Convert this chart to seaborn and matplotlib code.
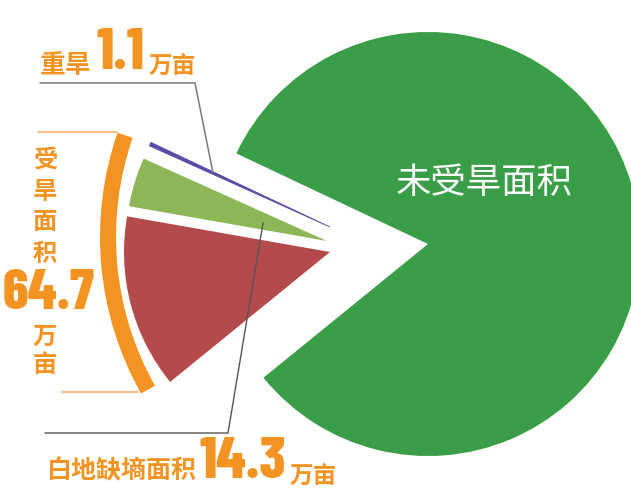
import matplotlib
matplotlib.use("Agg")
import matplotlib.pyplot as plt
import seaborn as sns
from matplotlib.patches import Arc

# data (万亩)
categories = ["未受旱面积", "重旱", "白地缺墒面积", "其他受旱"]
areas = [297.0, 1.1, 14.3, 49.3]
drought_total = 64.7
top_label_value = "1.1"
bottom_label_value = "14.3"
total_label_value = "64.7"

sns.set_theme(style="white")
plt.rcParams["font.family"] = ["Noto Sans CJK SC", "DejaVu Sans"]

palette = sns.color_palette(["#3a9d47", "#5a4ca6", "#8db657", "#b44a4b"])
ORANGE = "#f39422"
GRAY = "#7a7a7a"
W, H = 631, 491
NUM_FONT = ["Barlow Condensed", "DejaVu Sans"]


def P(x, y):
    # pixel position measured from the top-left corner
    return (x, H - y)


fig = plt.figure(figsize=(W / 100, H / 100), dpi=100)
ax = fig.add_axes([0, 0, 1, 1])

wedges, _ = ax.pie(areas, colors=palette, startangle=219.1, radius=212,
                   center=P(428, 244), wedgeprops=dict(linewidth=0))

# pull the drought slices out to the left
offsets = {1: (P(330, 227), 198), 2: (P(327, 241), 201), 3: (P(330, 252), 206)}
for i, (c, r) in offsets.items():
    wedges[i].set_center(c)
    wedges[i].set_radius(r)
wedges[1].set_linewidth(0.6)
wedges[1].set_edgecolor(palette[1])

ax.set_xlim(0, W)
ax.set_ylim(0, H)
ax.set_aspect("equal")
ax.axis("off")

# orange bracket for the whole drought area
ax.add_patch(Arc(P(419, 237), 622, 622, theta1=160.9, theta2=209.4,
                 lw=11.5, color=ORANGE, zorder=3))
ax.plot([38, 117], [H - 132, H - 132], color="#f6b26e", lw=1.2)
ax.plot([62, 138], [H - 392, H - 392], color="#f6b26e", lw=1.2)

# leader lines
ax.plot([40, 195, 213], [H - 83, H - 83, H - 173], color=GRAY, lw=1.1, zorder=4)
ax.plot([45, 228, 263], [H - 433, H - 433, H - 223], color="#555555", lw=1.0, zorder=4)

# top label
ax.text(*P(66, 65), categories[1], color=ORANGE, fontsize=18.5, fontweight="bold",
        ha="center", va="center")
ax.text(*P(120, 53), top_label_value, color=ORANGE, fontsize=42, fontweight=800,
        family=NUM_FONT, ha="center", va="center")
ax.text(*P(172, 66), "万亩", color=ORANGE, fontsize=17, fontweight="bold",
        ha="center", va="center")

# left label, vertical
for ch, y in zip("受旱面积", [160, 192, 222, 254]):
    ax.text(*P(45, y), ch, color=ORANGE, fontsize=17.5, fontweight="bold",
            ha="center", va="center")
ax.text(*P(49, 294), total_label_value, color=ORANGE, fontsize=41, fontweight=800,
        family=NUM_FONT, ha="center", va="center")
for ch, y in zip("万亩", [337, 365]):
    ax.text(*P(45, y), ch, color=ORANGE, fontsize=17.5, fontweight="bold",
            ha="center", va="center")

# bottom label
ax.text(*P(122, 471), categories[2], color=ORANGE, fontsize=18, fontweight="bold",
        ha="center", va="center")
ax.text(*P(243, 462), bottom_label_value, color=ORANGE, fontsize=42, fontweight=800,
        family=NUM_FONT, ha="center", va="center")
ax.text(*P(313, 476), "万亩", color=ORANGE, fontsize=17, fontweight="bold",
        ha="center", va="center")

# label inside the big slice
ax.text(*P(484, 183), categories[0], color="white", fontsize=25.5, fontweight="medium",
        ha="center", va="center")

fig.savefig("out.png", dpi=100, facecolor="white")
plt.close(fig)
